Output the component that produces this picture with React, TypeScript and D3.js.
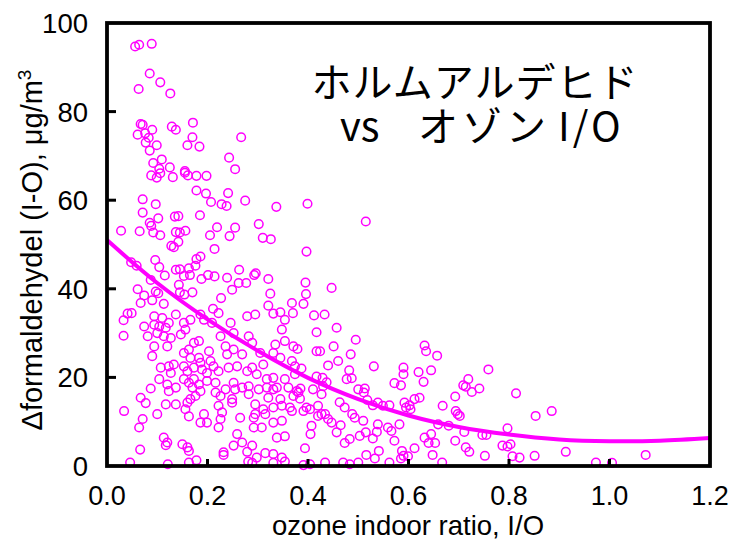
import React from "react";
import * as d3 from "d3";

// ---- data ----
const ozoneIO: number[] = [
0.056,0.064,0.089,0.085,0.106,0.063,0.126,0.067,0.071,0.090,0.061,0.076,0.083,0.129,0.137,0.171,0.170,0.160,0.184,0.267,0.077,0.099,0.085,0.243,0.109,0.092,0.125,0.155,0.255,0.104,
0.088,0.099,0.106,0.131,0.155,0.161,0.178,0.198,0.178,0.197,0.207,0.241,0.228,0.238,0.275,0.337,0.071,0.097,0.071,0.102,0.135,0.142,0.185,0.085,0.088,0.028,0.065,0.092,0.106,0.137,0.145,0.156,0.142,0.128,0.133,0.219,0.205,0.255,0.244,0.214,0.302,0.310,0.326,0.048,0.059,0.096,0.104,0.115,0.178,0.186,0.176,0.137,0.145,0.163,0.153,0.165,0.188,0.201,0.214,0.239,0.263,0.262,0.277,0.293,0.296,0.321,0.325,0.249,0.227,0.143,0.145,0.154,0.170,0.061,0.074,0.087,0.097,0.102,0.067,0.090,0.113,0.321,0.368,0.211,
0.399,0.515,0.397,0.395,0.447,0.396,0.391,
0.033,0.041,0.049,0.033,0.094,0.110,0.123,0.094,0.104,0.117,0.074,0.081,0.100,0.113,0.127,0.147,0.156,0.153,0.137,0.166,0.186,0.193,0.222,0.209,0.246,0.252,0.226,0.279,0.295,0.331,0.345,0.348,0.354,0.282,0.289,0.305,0.311,0.331,0.345,0.335,0.371,0.368,0.374,0.094,0.120,0.090,0.153,0.163,0.173,0.183,0.203,0.236,0.239,0.252,0.269,0.166,0.183,0.186,0.206,0.212,0.107,0.123,0.133,0.127,0.153,0.160,0.173,0.189,0.199,0.222,0.242,0.259,0.279,0.289,0.298,0.318,0.331,0.338,0.354,0.361,0.371,0.378,0.104,0.087,0.120,0.123,0.137,0.153,0.163,0.173,0.170,0.183,0.186,0.176,0.199,0.216,0.216,0.226,0.236,0.252,0.255,0.249,0.269,0.282,0.282,0.302,0.318,0.321,0.331,0.345,0.295,0.067,0.077,0.034,0.117,0.137,0.160,0.166,0.156,0.100,0.071,0.064,0.163,0.193,0.186,0.199,0.222,0.229,0.226,0.222,0.249,0.265,0.292,0.295,0.311,0.315,0.331,0.348,0.364,0.368,0.292,0.308,0.331,0.348,0.259,0.252,0.269,0.289,0.279,0.298,0.315,0.331,0.348,0.338,0.354,0.113,0.120,0.117,0.150,0.160,0.163,0.066,0.232,0.232,0.046,0.121,0.163,0.178,0.331,0.354,0.354,
0.370,0.412,0.433,0.457,0.417,0.495,0.379,0.417,0.424,0.451,0.485,0.460,0.440,0.482,0.487,0.477,0.417,0.429,0.437,0.387,0.374,0.531,0.590,0.590,0.620,0.645,0.632,0.635,0.657,0.630,0.572,0.585,0.759,0.719,0.709,0.714,0.741,0.726,0.693,0.500,0.513,0.511,0.518,0.385,0.381,0.384,0.410,0.430,0.427,0.463,0.473,0.529,0.539,0.549,0.562,0.592,0.602,0.612,0.622,0.595,0.604,0.668,0.694,0.698,0.702,0.659,0.680,0.391,0.397,0.404,0.420,0.427,0.420,0.434,0.440,0.447,0.407,0.405,0.457,0.465,0.488,0.493,0.510,0.539,0.537,0.515,0.503,0.529,0.559,0.566,0.582,0.572,0.483,0.473,0.394,0.541,0.516,0.533,0.587,0.590,0.585,0.599,0.612,0.632,0.640,0.645,0.653,0.648,0.667,0.693,0.714,0.721,0.752,0.747,0.755,0.711,0.434,0.470,0.483,0.500,0.391,0.404,0.562,
0.814,0.853,0.885,0.797,0.787,0.803,0.797,0.807,0.821,0.851,0.913,0.973,1.005,1.072,
0.281,0.289
];

const deltaHCHO: number[] = [
94.7,95.1,95.3,88.6,86.6,85.1,84.1,77.2,77.0,75.9,74.8,75.1,74.1,76.6,75.9,77.5,74.2,72.4,72.1,74.2,73.0,72.4,71.2,69.6,69.2,68.4,67.4,66.6,67.0,67.1,
65.6,65.1,66.1,65.2,66.2,65.6,65.5,65.5,62.2,61.5,59.6,61.6,59.1,58.7,59.9,58.5,60.2,59.1,57.2,55.9,56.3,56.4,56.6,54.9,54.2,53.1,53.0,52.7,52.1,52.8,52.7,53.1,50.6,49.7,49.4,53.9,52.1,53.8,51.9,49.0,54.6,51.5,51.2,46.0,45.2,46.5,44.9,43.0,46.7,47.3,45.2,44.3,44.4,44.6,42.9,43.1,42.2,43.1,42.8,42.5,44.3,41.3,41.3,43.1,43.5,42.2,38.9,39.8,37.9,40.9,39.2,38.7,39.2,39.9,38.5,42.0,39.4,39.0,36.8,37.4,36.6,36.2,36.8,35.5,
59.2,55.2,48.4,41.4,40.2,38.8,36.6,
32.9,34.4,34.5,29.4,33.8,33.4,32.3,31.9,31.5,31.2,31.5,29.3,30.0,29.3,28.9,29.7,30.8,32.3,34.2,33.0,34.2,33.0,34.5,32.3,32.3,30.0,29.3,33.8,34.2,34.4,34.7,30.8,28.2,29.3,27.8,25.5,22.9,25.5,24.4,27.4,27.0,23.7,22.5,27.0,27.0,24.8,25.5,26.3,27.8,28.2,25.9,27.0,25.2,26.3,25.2,24.4,24.4,23.3,23.7,22.5,22.2,22.5,22.9,21.0,22.5,21.4,22.2,21.8,21.0,21.4,22.2,22.5,21.4,22.2,20.7,19.6,19.9,17.7,19.6,17.7,15.8,16.9,19.6,17.5,18.4,16.9,17.7,19.6,18.8,19.6,17.7,18.4,16.9,15.8,19.2,18.8,16.6,15.8,17.3,18.8,17.3,15.1,17.7,18.0,16.2,17.3,17.7,15.4,17.3,15.1,13.9,15.4,14.2,12.4,13.9,13.9,14.3,15.1,12.8,11.7,10.6,8.7,11.2,11.7,9.8,9.8,13.6,12.1,10.6,8.7,14.3,10.9,10.9,11.7,12.8,11.7,13.2,13.6,13.2,12.4,8.7,8.7,9.8,10.2,7.2,4.6,5.3,4.6,3.2,1.9,2.9,2.7,1.9,6.4,6.7,6.4,5.3,4.7,4.9,4.2,3.4,3.7,3.1,2.5,0.8,0.4,0.8,1.3,0.7,1.0,33.0,
34.5,34.0,34.2,31.2,30.2,28.5,26.4,25.9,25.9,27.0,25.2,23.7,22.7,21.6,19.8,19.6,20.2,19.9,18.9,22.0,20.7,22.5,22.2,20.7,21.2,21.6,27.2,25.9,24.9,19.0,18.7,18.2,21.8,19.6,18.2,17.9,17.5,16.7,15.7,17.3,17.5,16.6,14.9,17.5,16.6,15.2,17.3,18.0,16.2,14.4,13.2,13.7,14.3,13.6,13.7,14.3,13.7,15.1,15.4,13.2,12.8,13.6,12.4,11.7,11.3,9.4,9.1,12.4,13.2,12.8,13.6,11.7,11.3,11.7,10.6,9.8,9.1,7.2,7.6,9.2,11.7,10.9,10.2,9.4,7.7,7.6,6.8,6.2,8.7,7.9,9.4,5.7,6.1,5.2,4.0,3.4,2.5,1.7,3.4,2.3,1.7,2.2,4.0,6.4,5.2,7.2,5.2,2.5,0.8,5.7,4.2,3.2,2.3,7.0,7.0,7.7,0.8,0.8,0.4,0.8,0.2,0.4,0.8,
16.4,11.3,12.4,8.5,4.6,4.9,4.4,2.2,1.9,2.3,3.2,0.8,0.7,2.5,
1.0,0.7
];

// trend curve
const trendX: number[] = [0, 0.1, 0.2, 0.3, 0.4, 0.5, 0.6, 0.7, 0.8, 0.9, 1.0, 1.1, 1.2];
const trendY: number[] = [51, 41.3, 33.1, 26.0, 19.9, 15.1, 11.4, 8.8, 7.1, 6.0, 5.6, 5.7, 6.3];

const xTicks: number[] = [0, 0.2, 0.4, 0.6, 0.8, 1.0, 1.2];
const yTicks: number[] = [0, 20, 40, 60, 80, 100];

const titleLine1 = "ホルムアルデヒド";
const titleVs = "vs";
const titleKana = "オゾン";
const titleIO = "I/O";
const xTitle = "ozone indoor ratio, I/O";

const W = 729;
const H = 541;
const MAGENTA = "#FF00FF";
const LATIN = "'Liberation Sans', Arial, Helvetica, sans-serif";
const CJK = "'Noto Sans CJK JP', 'Noto Sans CJK SC', sans-serif";

export default function App() {
  const x = d3.scaleLinear().domain([0, 1.2]).range([107, 710]);
  const y = d3.scaleLinear().domain([0, 100]).range([466, 23]);

  const pts = ozoneIO.map((v, i) => [v, deltaHCHO[i]] as [number, number]);
  const trend = trendX.map((v, i) => [v, trendY[i]] as [number, number]);
  const line = d3
    .line<[number, number]>()
    .x((d) => x(d[0]))
    .y((d) => y(d[1]))
    .curve(d3.curveCatmullRom);

  const [x0, x1] = x.range();
  const [y0, y1] = y.range();

  return (
    <svg
      width={W}
      height={H}
      style={{ position: "absolute", left: 0, top: 0, background: "#fff" }}
    >
      <rect x={0} y={0} width={W} height={H} fill="#fff" />
      {/* points */}
      <g>
        {pts.map((d, i) => (
          <circle
            key={i}
            cx={x(d[0])}
            cy={y(d[1])}
            r={4.3}
            fill="none"
            stroke={MAGENTA}
            strokeWidth={1.5}
          />
        ))}
      </g>
      {/* trend */}
      <path d={line(trend) || ""} fill="none" stroke={MAGENTA} strokeWidth={4} />
      {/* frame */}
      <rect
        x={x0}
        y={y1}
        width={x1 - x0}
        height={y0 - y1}
        fill="none"
        stroke="#000"
        strokeWidth={3.8}
      />
      {/* y ticks */}
      {yTicks.map((t) => (
        <g key={"y" + t}>
          {t > 0 && t < 100 && (
            <line x1={x0} x2={x0 + 9} y1={y(t)} y2={y(t)} stroke="#000" strokeWidth={3} />
          )}
          <text
            x={88}
            y={y(t)}
            dy="0.36em"
            textAnchor="end"
            fontFamily={LATIN}
            fontSize={27.5}
            fill="#000"
          >
            {t}
          </text>
        </g>
      ))}
      {/* x ticks */}
      {xTicks.map((t) => (
        <g key={"x" + t}>
          {t > 0 && t < 1.2 && (
            <line x1={x(t)} x2={x(t)} y1={y0} y2={y0 - 7} stroke="#000" strokeWidth={3} />
          )}
          <text
            x={x(t)}
            y={505}
            textAnchor="middle"
            fontFamily={LATIN}
            fontSize={27}
            fill="#000"
          >
            {t.toFixed(1)}
          </text>
        </g>
      ))}
      {/* axis titles */}
      <text x={408} y={535} textAnchor="middle" fontFamily={LATIN} fontSize={27.5} fill="#000">
        {xTitle}
      </text>
      <text
        transform="translate(42,250) rotate(-90)"
        textAnchor="middle"
        fontFamily={LATIN}
        fontSize={29}
        fill="#000"
      >
        Δformaldehydel (I-O), μg/m
        <tspan fontSize={19} dy={-11}>
          3
        </tspan>
      </text>
      {/* chart title */}
      <text
        x={475}
        y={97}
        textAnchor="middle"
        fontFamily={CJK}
        fontSize={40}
        letterSpacing={1}
        fill="#000"
      >
        {titleLine1}
      </text>
      <text y={141} fontFamily={CJK} fontSize={40} fill="#000">
        <tspan x={340}>{titleVs}</tspan>
        <tspan x={418} letterSpacing={4}>{titleKana}</tspan>
        <tspan x={558} letterSpacing={3}>{titleIO}</tspan>
      </text>
    </svg>
  );
}
